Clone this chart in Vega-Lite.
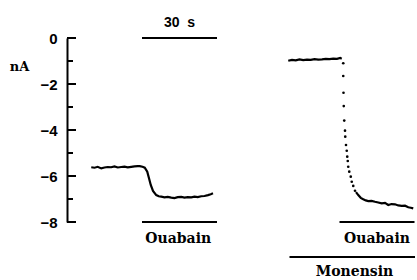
{
  "$schema": "https://vega.github.io/schema/vega-lite/v6.json",
  "width": 350,
  "height": 184,
  "autosize": {"type": "none"},
  "padding": {"left": 67, "top": 38, "right": 0, "bottom": 58},
  "config": {"view": {"stroke": null}},
  "datasets": {
    "trace": [
      {"t": 9.7, "v": -5.62, "seg": "a"}, {"t": 11, "v": -5.64, "seg": "a"}, {"t": 12.3, "v": -5.6, "seg": "a"},
      {"t": 13.7, "v": -5.67, "seg": "a"}, {"t": 15, "v": -5.63, "seg": "a"}, {"t": 16.3, "v": -5.61, "seg": "a"},
      {"t": 17.7, "v": -5.62, "seg": "a"}, {"t": 19, "v": -5.58, "seg": "a"}, {"t": 20.3, "v": -5.63, "seg": "a"},
      {"t": 21.7, "v": -5.61, "seg": "a"}, {"t": 23, "v": -5.59, "seg": "a"}, {"t": 24.3, "v": -5.62, "seg": "a"},
      {"t": 25.7, "v": -5.6, "seg": "a"}, {"t": 27, "v": -5.58, "seg": "a"}, {"t": 28.3, "v": -5.57, "seg": "a"},
      {"t": 29.1, "v": -5.57, "seg": "a"}, {"t": 30.2, "v": -5.6, "seg": "a"}, {"t": 31.1, "v": -5.64, "seg": "a"},
      {"t": 32.1, "v": -5.81, "seg": "a"}, {"t": 32.8, "v": -6.1, "seg": "a"}, {"t": 33.5, "v": -6.39, "seg": "a"},
      {"t": 34.4, "v": -6.65, "seg": "a"}, {"t": 35.7, "v": -6.83, "seg": "a"}, {"t": 36.7, "v": -6.88, "seg": "a"},
      {"t": 37.7, "v": -6.9, "seg": "a"}, {"t": 39, "v": -6.93, "seg": "a"}, {"t": 40.3, "v": -6.91, "seg": "a"},
      {"t": 41.7, "v": -6.94, "seg": "a"}, {"t": 43, "v": -6.96, "seg": "a"}, {"t": 44.3, "v": -6.92, "seg": "a"},
      {"t": 45.7, "v": -6.91, "seg": "a"}, {"t": 47, "v": -6.94, "seg": "a"}, {"t": 48.3, "v": -6.92, "seg": "a"},
      {"t": 49.7, "v": -6.93, "seg": "a"}, {"t": 51, "v": -6.9, "seg": "a"}, {"t": 52.3, "v": -6.92, "seg": "a"},
      {"t": 53.7, "v": -6.88, "seg": "a"}, {"t": 55, "v": -6.87, "seg": "a"}, {"t": 56.4, "v": -6.83, "seg": "a"},
      {"t": 57.5, "v": -6.79, "seg": "a"}, {"t": 58.4, "v": -6.75, "seg": "a"},
      {"t": 88.5, "v": -0.99, "seg": "b"}, {"t": 90, "v": -0.95, "seg": "b"}, {"t": 91.5, "v": -0.97, "seg": "b"},
      {"t": 93, "v": -0.93, "seg": "b"}, {"t": 94.5, "v": -0.96, "seg": "b"}, {"t": 96, "v": -0.94, "seg": "b"},
      {"t": 97.5, "v": -0.95, "seg": "b"}, {"t": 99, "v": -0.92, "seg": "b"}, {"t": 100.5, "v": -0.94, "seg": "b"},
      {"t": 102, "v": -0.93, "seg": "b"}, {"t": 103.5, "v": -0.91, "seg": "b"}, {"t": 105, "v": -0.92, "seg": "b"},
      {"t": 106.5, "v": -0.9, "seg": "b"}, {"t": 108, "v": -0.91, "seg": "b"}, {"t": 109.3, "v": -0.87, "seg": "b"},
      {"t": 109.9, "v": -0.9, "seg": "b"},
      {"t": 110.5, "v": -1.1, "seg": "dots"}, {"t": 110.5, "v": -1.65, "seg": "dots"}, {"t": 110.6, "v": -2.38, "seg": "dots"},
      {"t": 110.7, "v": -2.96, "seg": "dots"}, {"t": 110.9, "v": -3.59, "seg": "dots"}, {"t": 111.2, "v": -4.03, "seg": "dots"},
      {"t": 111.3, "v": -4.29, "seg": "dots"}, {"t": 111.6, "v": -4.65, "seg": "dots"}, {"t": 111.9, "v": -4.9, "seg": "dots"},
      {"t": 112.1, "v": -5.16, "seg": "dots"}, {"t": 112.3, "v": -5.35, "seg": "dots"}, {"t": 112.5, "v": -5.6, "seg": "dots"},
      {"t": 112.9, "v": -5.81, "seg": "dots"}, {"t": 113.5, "v": -6.03, "seg": "dots"}, {"t": 113.9, "v": -6.25, "seg": "dots"},
      {"t": 114.5, "v": -6.43, "seg": "dots"}, {"t": 115.2, "v": -6.64, "seg": "dots"},
      {"t": 115.6, "v": -6.7, "seg": "c"}, {"t": 116.5, "v": -6.83, "seg": "c"}, {"t": 117.5, "v": -6.95, "seg": "c"},
      {"t": 118.5, "v": -7.01, "seg": "c"}, {"t": 119.5, "v": -7.06, "seg": "c"}, {"t": 120.5, "v": -7.09, "seg": "c"},
      {"t": 121.8, "v": -7.08, "seg": "c"}, {"t": 123.2, "v": -7.12, "seg": "c"}, {"t": 124.5, "v": -7.15, "seg": "c"},
      {"t": 125.9, "v": -7.19, "seg": "c"}, {"t": 127.2, "v": -7.17, "seg": "c"}, {"t": 128.5, "v": -7.26, "seg": "c"},
      {"t": 129.8, "v": -7.22, "seg": "c"}, {"t": 131.2, "v": -7.23, "seg": "c"}, {"t": 132.5, "v": -7.28, "seg": "c"},
      {"t": 133.9, "v": -7.3, "seg": "c"}, {"t": 135.2, "v": -7.29, "seg": "c"}, {"t": 136.5, "v": -7.36, "seg": "c"},
      {"t": 137.5, "v": -7.38, "seg": "c"}, {"t": 138.5, "v": -7.41, "seg": "c"}
    ],
    "yticks": [
      {"v": 0}, {"v": -1}, {"v": -2}, {"v": -3}, {"v": -4}, {"v": -5}, {"v": -6}, {"v": -7}, {"v": -8}
    ],
    "bars": [
      {"t": 30, "t2": 60, "v": 0},
      {"t": 30, "t2": 60, "v": -8},
      {"t": 109, "t2": 139, "v": -8},
      {"t": 89, "t2": 139.2, "v": -9.52}
    ],
    "labels": [
      {"label": "30\u00a0\u00a0s", "t": 45, "v": 0.67, "kind": "scale"},
      {"label": "Ouabain", "t": 44.5, "v": -8.74, "kind": "drug"},
      {"label": "Ouabain", "t": 124, "v": -8.74, "kind": "drug"},
      {"label": "Monensin", "t": 115, "v": -10.17, "kind": "drug"}
    ]
  },
  "layer": [
    {
      "data": {"name": "trace"},
      "transform": [{"filter": "datum.seg != 'dots'"}],
      "mark": {"type": "line", "color": "black", "strokeWidth": 2.2, "clip": false},
      "encoding": {
        "x": {"field": "t", "type": "quantitative", "scale": {"domain": [0, 140], "nice": false, "zero": false}, "axis": null},
        "y": {
          "field": "v", "type": "quantitative",
          "scale": {"domain": [-8, 0], "nice": false, "zero": false},
          "axis": {
            "title": "nA", "titleAngle": 0, "titleX": -48, "titleY": 28,
            "titleAlign": "center", "titleBaseline": "middle",
            "titleFont": "DejaVu Serif", "titleFontWeight": "bold", "titleFontSize": 13, "titleColor": "black",
            "values": [-8, -6, -4, -2, 0],
            "ticks": false, "labelPadding": 10,
            "domainWidth": 2, "domainColor": "black", "grid": false,
            "labelFont": "Liberation Sans", "labelFontSize": 15, "labelFontWeight": "bold", "labelColor": "black"
          }
        },
        "detail": {"field": "seg"}
      }
    },
    {
      "data": {"name": "yticks"},
      "mark": {"type": "rule", "color": "black", "strokeWidth": 2, "clip": false,
               "x2Offset": {"expr": "datum.v % 2 == 0 ? 9 : 6"}},
      "encoding": {
        "x": {"datum": 0, "type": "quantitative"},
        "x2": {"datum": 0},
        "y": {"field": "v", "type": "quantitative"}
      }
    },
    {
      "data": {"name": "trace"},
      "transform": [{"filter": "datum.seg == 'dots'"}],
      "mark": {"type": "circle", "color": "black", "size": 7, "opacity": 1, "clip": false},
      "encoding": {
        "x": {"field": "t", "type": "quantitative"},
        "y": {"field": "v", "type": "quantitative"}
      }
    },
    {
      "data": {"name": "bars"},
      "mark": {"type": "rule", "color": "black", "strokeWidth": 2, "clip": false},
      "encoding": {
        "x": {"field": "t", "type": "quantitative"},
        "x2": {"field": "t2"},
        "y": {"field": "v", "type": "quantitative"}
      }
    },
    {
      "data": {"name": "labels"},
      "transform": [{"filter": "datum.kind == 'scale'"}],
      "mark": {"type": "text", "font": "Liberation Sans", "fontWeight": "bold", "fontSize": 14, "color": "black", "baseline": "middle", "align": "center", "clip": false},
      "encoding": {
        "x": {"field": "t", "type": "quantitative"},
        "y": {"field": "v", "type": "quantitative"},
        "text": {"field": "label"}
      }
    },
    {
      "data": {"name": "labels"},
      "transform": [{"filter": "datum.kind == 'drug'"}],
      "mark": {"type": "text", "font": "DejaVu Serif", "fontWeight": "bold", "fontSize": 14, "color": "black", "baseline": "middle", "align": "center", "clip": false},
      "encoding": {
        "x": {"field": "t", "type": "quantitative"},
        "y": {"field": "v", "type": "quantitative"},
        "text": {"field": "label"}
      }
    }
  ]
}
